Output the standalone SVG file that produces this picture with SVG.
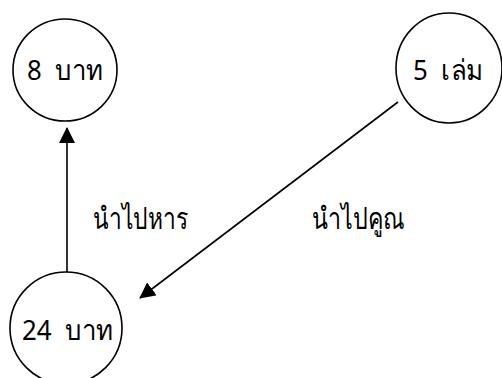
<svg xmlns="http://www.w3.org/2000/svg" width="502" height="378" viewBox="0 0 502 378">
<style>
.node{fill:#fff;stroke:#000;stroke-width:1.6}
.lbl{font-family:"Noto Sans","DejaVu Sans",sans-serif;font-size:28px;fill:#000;white-space:pre}
.elbl{font-size:30px}
.edge{stroke:#000;stroke-width:1.6;fill:none}
</style>
<defs>
<marker id="arr" viewBox="0 0 16 16" refX="15" refY="8" markerWidth="16" markerHeight="16" markerUnits="userSpaceOnUse" orient="auto">
<path d="M0,0 L16,8 L0,16 z" fill="#000"/>
</marker>
</defs>
<rect width="502" height="378" fill="#fff"/>
<g id="edges">
<line class="edge" x1="67" y1="272" x2="67" y2="128" marker-end="url(#arr)"/>
<line class="edge" x1="398" y1="102" x2="140" y2="298" marker-end="url(#arr)"/>
<text class="lbl elbl" x="93" y="229" textLength="95" lengthAdjust="spacingAndGlyphs">นำไปหาร</text>
<text class="lbl elbl" x="312" y="229" textLength="93" lengthAdjust="spacingAndGlyphs">นำไปคูณ</text>
</g>
<g id="n8">
<ellipse class="node" cx="65" cy="70" rx="52" ry="51"/>
<text class="lbl" x="27" y="80" xml:space="preserve" textLength="76" lengthAdjust="spacingAndGlyphs">8  บาท</text>
</g>
<g id="n5">
<ellipse class="node" cx="449" cy="68" rx="53" ry="55"/>
<text class="lbl" x="413" y="80" xml:space="preserve" textLength="70" lengthAdjust="spacingAndGlyphs">5  เล่ม</text>
</g>
<g id="n24">
<ellipse class="node" cx="66" cy="328" rx="56" ry="56"/>
<text class="lbl" x="22" y="340" xml:space="preserve" textLength="91" lengthAdjust="spacingAndGlyphs">24  บาท</text>
</g>
</svg>
